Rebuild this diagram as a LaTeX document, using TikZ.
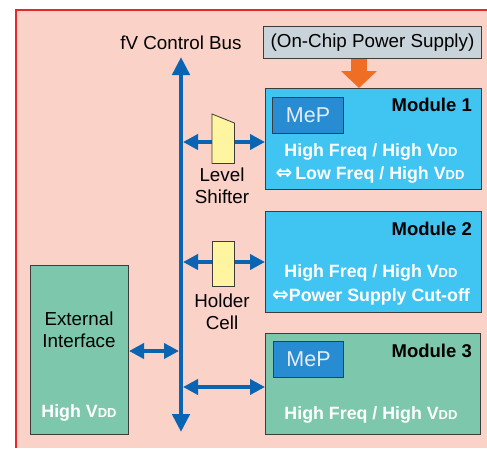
\documentclass[tikz,border=0pt]{standalone}
\usepackage{fontspec}
\setmainfont{Liberation Sans}
\newfontfamily\symfont{DejaVu Sans}
\usetikzlibrary{arrows.meta}
\definecolor{pinkbg}{RGB}{250,210,200}
\definecolor{framered}{RGB}{232,40,40}
\definecolor{psgray}{RGB}{200,212,218}
\definecolor{modcyan}{RGB}{64,197,242}
\definecolor{modgreen}{RGB}{125,200,172}
\definecolor{mepblue}{RGB}{40,140,210}
\definecolor{meptext}{RGB}{228,236,245}
\definecolor{busblue}{RGB}{10,100,180}
\definecolor{arrorange}{RGB}{240,110,35}
\definecolor{cellyellow}{RGB}{255,245,160}
\definecolor{edgegray}{RGB}{60,60,60}
\newcommand{\vdd}{V{\fontsize{13}{12}\selectfont DD}}
\newcommand{\dblarr}{{\symfont\fontsize{20}{20}\selectfont ⇔}}
\tikzset{
  box/.style={draw=edgegray, line width=1pt, anchor=north west, inner sep=0pt},
  modtitle/.style={font=\fontsize{18.5}{20}\selectfont\bfseries, text=black, anchor=east, inner sep=0pt},
  modtext/.style={font=\fontsize{17.8}{20}\selectfont\bfseries, text=white, inner sep=0pt},
  plain/.style={font=\fontsize{18.8}{22}\selectfont, text=black, inner sep=0pt, align=center},
  meptxt/.style={font=\fontsize{21.5}{24}\selectfont, text=meptext},
  busline/.style={draw=busblue, line width=4.5pt},
  link/.style={draw=busblue, line width=4pt, {Triangle[width=15pt,length=15pt]}-{Triangle[width=15pt,length=15pt]}},
}
\begin{document}
\begin{tikzpicture}[x=1pt, y=-1pt]
\useasboundingbox (0,0) rectangle (487,448);
% background frame
\fill[pinkbg] (16,10) rectangle (487,448);
\draw[framered, line width=1.5pt] (16,448) -- (16,10) -- (487,10);

% boxes
\node[box, fill=psgray, minimum width=218pt, minimum height=32pt] (ps) at (263,26) {};
\node[font=\fontsize{18.8}{22}\selectfont] (pstext) at (ps.center) {(On-Chip Power Supply)};

\node[box, fill=modcyan, minimum width=216pt, minimum height=101pt] (m1) at (265,88) {};
\node[box, fill=modcyan, minimum width=216pt, minimum height=101pt] (m2) at (265,211) {};
\node[box, fill=modgreen, minimum width=215pt, minimum height=101pt] (m3) at (265,333) {};
\node[box, fill=modgreen, minimum width=98pt, minimum height=169pt] (ext) at (30,265) {};

% MeP boxes
\node[box, fill=mepblue, minimum width=71pt, minimum height=36pt] (mep1) at (272,97) {};
\node[meptxt] (mep1t) at (mep1.center) {MeP};
\node[box, fill=mepblue, minimum width=70pt, minimum height=36pt] (mep3) at (273,341) {};
\node[meptxt] (mep3t) at (mep3.center) {MeP};

% module texts
\node[modtitle] (m1title) at (472,105) {Module 1};
\node[modtext] (m1a) at (371,152) {High Freq / High \vdd};
\node[modtext] (m1b) at (370,175) {\dblarr\,Low Freq / High \vdd};
\node[modtitle] (m2title) at (472,229) {Module 2};
\node[modtext] (m2a) at (371,273) {High Freq / High \vdd};
\node[modtext] (m2b) at (371,297) {\dblarr Power Supply Cut-off};
\node[modtitle] (m3title) at (472,351) {Module 3};
\node[modtext] (m3a) at (371,415) {High Freq / High \vdd};
\node[plain] (exta) at (79,330) {External\\Interface};
\node[modtext] (extb) at (79,413) {High \vdd};

% bus
\coordinate (bustop) at (181,57);
\coordinate (busbot) at (181,432);
\draw[busline, {Triangle[width=17pt,length=18pt]}-{Triangle[width=17pt,length=18pt]}] (busbot) -- (bustop);
\node[plain] (buslabel) at (181,43) {fV Control Bus};

% links
\coordinate (b1) at (183,142);
\coordinate (b2) at (183,262);
\coordinate (b3) at (179,351);
\coordinate (b4) at (183,387);
\draw[link] (b1) -- (b1 -| m1.west);
\draw[link] (b2) -- (b2 -| m2.west);
\draw[link] (ext.east |- b3) -- (b3);
\draw[link] (b4) -- (b4 -| m3.west);

% level shifter
\node[minimum width=22pt, minimum height=49pt, anchor=north west, inner sep=0pt] (ls) at (212,114) {};
\filldraw[fill=cellyellow, draw=edgegray, line width=0.8pt]
  (ls.north west) -- ([yshift=-9pt]ls.north east) -- (ls.south east) -- (ls.south west) -- cycle;
\node[plain] (lslabel) at (222,186) {Level\\Shifter};

% holder cell
\node[box, fill=cellyellow, line width=0.8pt, minimum width=22pt, minimum height=45pt] (hc) at (212,241) {};
\node[plain] (hclabel) at (222,311.5) {Holder\\Cell};

% power arrow
\draw[arrorange, line width=16pt, -{Triangle[width=35pt,length=17pt]}] (ps.south -| 359,0) -- (m1.north -| 359,0);
\end{tikzpicture}
\end{document}
